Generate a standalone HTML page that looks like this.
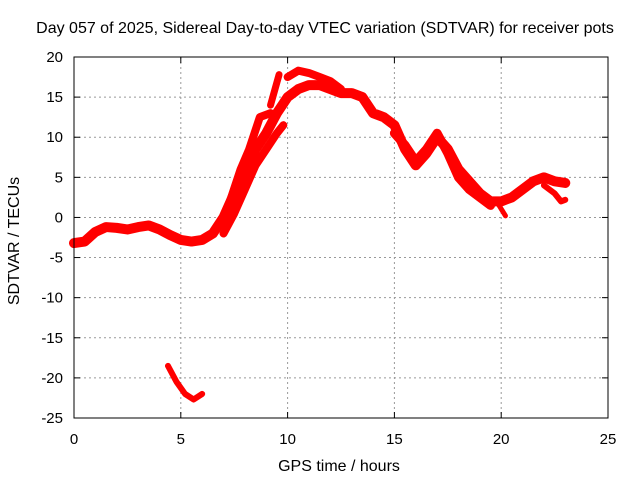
<!DOCTYPE html>
<html><head><meta charset="utf-8"><style>
body{margin:0;background:#fff}
svg{display:block;font-family:"Liberation Sans",sans-serif}
</style></head><body>
<svg id="c" width="640" height="480">
<text x="325" y="33" font-size="16" text-anchor="middle">Day 057 of 2025, Sidereal Day-to-day VTEC variation (SDTVAR) for receiver pots</text>
<text x="339" y="471" font-size="16" text-anchor="middle">GPS time / hours</text>
<text transform="translate(19,241) rotate(-90)" font-size="16" text-anchor="middle">SDTVAR / TECUs</text>
<g id="grid"></g><g id="ticks"></g><g id="data"></g>
<rect x="74" y="57" width="534" height="361" fill="none" stroke="#000" stroke-width="1"/>
</svg>
<script>
const xTicks=[0,5,10,15,20,25];
const yTicks=[20,15,10,5,0,-5,-10,-15,-20,-25];
const trackMain=[[0,-3.2],[0.5,-3],[1,-1.8],[1.5,-1.2],[2,-1.3],[2.5,-1.5],[3,-1.2],[3.5,-1.0],[4,-1.5],[4.5,-2.2],[5,-2.8],[5.5,-3.0],[6,-2.8],[6.5,-2.0],[7,0],[7.5,3],[8,6],[8.5,8.5],[9,10.5],[9.5,13],[10,15],[10.5,16],[11,16.5],[11.5,16.5],[12,16],[12.5,15.5],[13,15.5],[13.5,15],[14,13],[14.5,12.5],[15,11.5],[15.5,8.5],[16,6.5],[16.5,8],[17,10],[17.5,8.5],[18,6],[18.5,4.5],[19,3],[19.5,2],[20,2],[20.5,2.5],[21,3.5],[21.5,4.5],[22,5],[22.5,4.5],[23,4.3]];
const trackB=[[6.8,-1],[7.3,2],[7.8,6],[8.2,8.5],[8.7,12.5],[9.2,13]];
const trackC=[[7,-2],[7.5,0.5],[8,3.5],[8.5,6.5],[9,8.5],[9.5,10.5],[9.8,11.5]];
const trackSpur=[[8.3,8],[8.3,5]];
const trackD=[[9.2,14],[9.6,17.8]];
const trackTop=[[10,17.5],[10.5,18.3],[11,18],[11.5,17.5],[12,17],[12.5,16]];
const trackLow=[[15,10.5],[15.5,9],[16,7],[16.5,8.5],[17,10.5],[17.5,8],[18,5],[18.5,3.5],[19,2.5],[19.5,1.5]];
const trackDip=[[19.9,1.5],[20.2,0.2]];
const trackEnd=[[22,4],[22.5,3],[22.8,2],[23,2.2]];
const trackNeg=[[4.4,-18.5],[4.8,-20.5],[5.2,-22],[5.6,-22.7],[6,-22]];
const X=h=>74+h*534/25, Y=v=>57+(20-v)*361/45;
const NS="http://www.w3.org/2000/svg";
function mk(t,a,p){const e=document.createElementNS(NS,t);for(const k in a)e.setAttribute(k,a[k]);p.appendChild(e);return e;}
const g=document.getElementById('grid'),tk=document.getElementById('ticks'),d=document.getElementById('data');
xTicks.forEach(t=>{
 if(t>0&&t<25){const l=mk('line',{x1:X(t),x2:X(t),y1:57,y2:418,stroke:'#999','stroke-dasharray':'2,3'},g);
 
 }
 const s=mk('text',{x:X(t),y:444,'font-size':15,'text-anchor':'middle'},tk);s.textContent=t;
 
 
 mk('line',{x1:X(t),x2:X(t),y1:418,y2:412,stroke:'#000'},tk);mk('line',{x1:X(t),x2:X(t),y1:57,y2:63,stroke:'#000'},tk);
});
yTicks.forEach(t=>{
 if(t<20&&t>-25){const l=mk('line',{x1:74,x2:608,y1:Y(t),y2:Y(t),stroke:'#999','stroke-dasharray':'2,3'},g);
 
 }
 const s=mk('text',{x:63,y:Y(t)+5,'font-size':15,'text-anchor':'end'},tk);s.textContent=t;
 
 
 mk('line',{x1:74,x2:80,y1:Y(t),y2:Y(t),stroke:'#000'},tk);mk('line',{x1:608,x2:602,y1:Y(t),y2:Y(t),stroke:'#000'},tk);
});
[[trackMain,10],[trackB,8],[trackC,8],[trackSpur,5],[trackD,7],[trackTop,8],[trackLow,9],[trackDip,5],[trackEnd,6],[trackNeg,6]].forEach(([tr,w])=>{
 const p=mk('polyline',{points:tr.map(q=>X(q[0])+','+Y(q[1])).join(' '),fill:'none',stroke:'#f00','stroke-width':w,'stroke-linejoin':'round','stroke-linecap':'round'},d);
 
 
});
</script>
</body></html>
